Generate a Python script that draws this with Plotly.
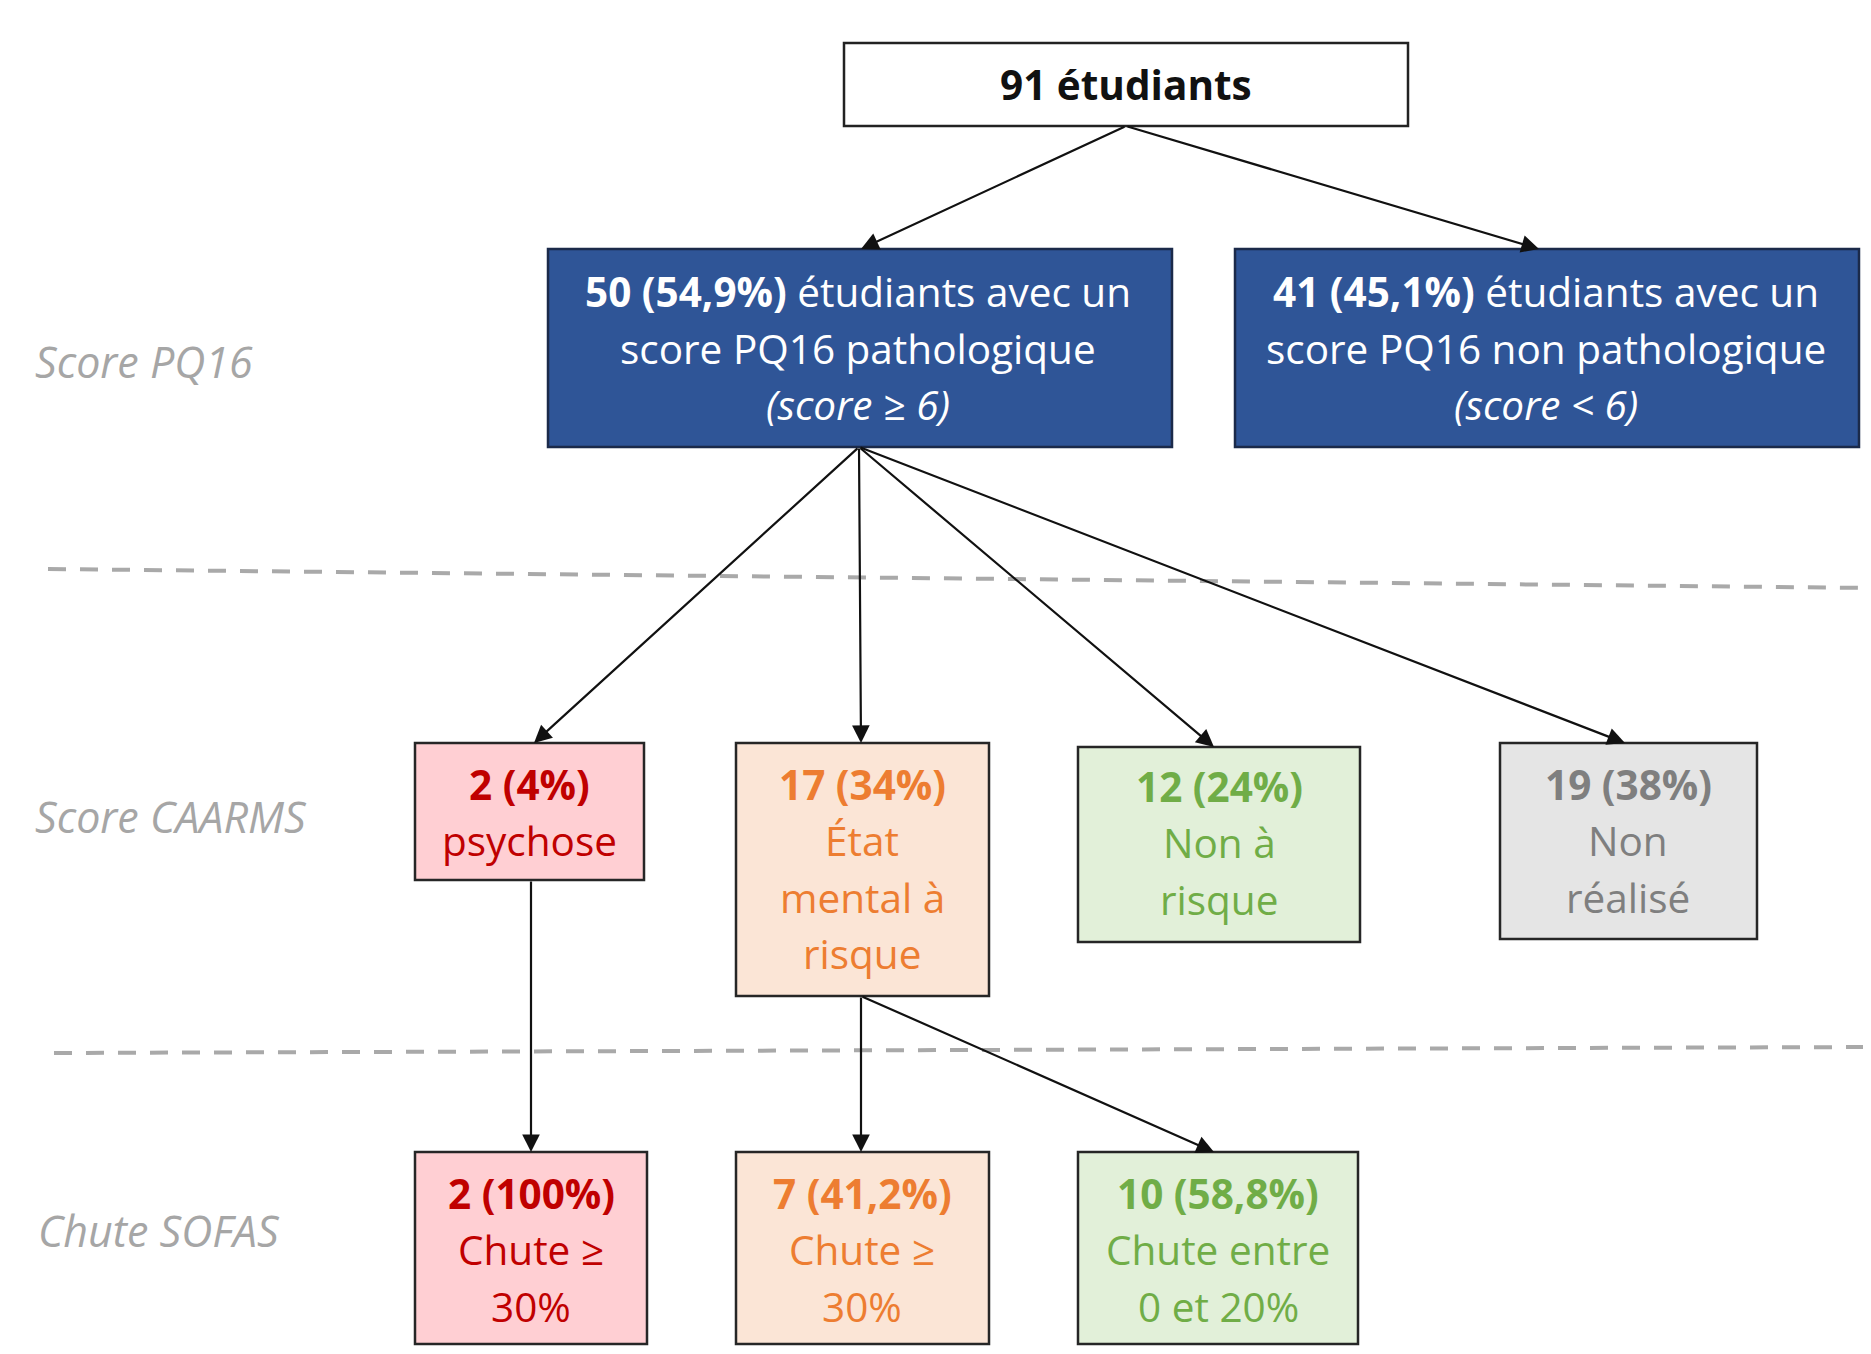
import plotly.graph_objects as go

# ---------------- data ----------------
total_students = 91
pq16_counts = [50, 41]
pq16_pcts = ["54,9%", "45,1%"]
pq16_lines = [["étudiants avec un", "score PQ16 pathologique", "(score ≥ 6)"],
              ["étudiants avec un", "score PQ16 non pathologique", "(score < 6)"]]
caarms_counts = [2, 17, 12, 19]
caarms_pcts = ["4%", "34%", "24%", "38%"]
caarms_lines = [["psychose"], ["État", "mental à", "risque"], ["Non à", "risque"], ["Non", "réalisé"]]
sofas_counts = [2, 7, 10]
sofas_pcts = ["100%", "41,2%", "58,8%"]
sofas_lines = [["Chute ≥", "30%"], ["Chute ≥", "30%"], ["Chute entre", "0 et 20%"]]
row_labels = ["Score PQ16", "Score CAARMS", "Chute SOFAS"]

# ---------------- layout / style ----------------
W, H = 1871, 1354
PAD = 8  # default page margin of the html body
FONT = "Open Sans"
FS = 40.5
FS_ROW = 43
LH = 56.5

pal = {
    "red": ("#FFCFD3", "#C00000"),
    "orange": ("#FBE5D6", "#ED7D31"),
    "green": ("#E2F0D9", "#70AD47"),
    "grey": ("#E5E5E5", "#7F7F7F"),
}

top_box = dict(x0=844, x1=1408, y0=43, y1=126)
pq_boxes = [dict(x0=548, x1=1172, y0=249, y1=447, cx=858),
            dict(x0=1235, x1=1859, y0=249, y1=447, cx=1546)]
pq_text_y = [291, 348, 404]
ca_boxes = [dict(x0=415, x1=644, y0=743, y1=880, cx=529, c="red", ty=784),
            dict(x0=736, x1=989, y0=743, y1=996, cx=862, c="orange", ty=784),
            dict(x0=1078, x1=1360, y0=747, y1=942, cx=1219, c="green", ty=786),
            dict(x0=1500, x1=1757, y0=743, y1=939, cx=1628, c="grey", ty=784)]
so_boxes = [dict(x0=415, x1=647, y0=1152, y1=1344, cx=531, c="red", ty=1193),
            dict(x0=736, x1=989, y0=1152, y1=1344, cx=862, c="orange", ty=1193),
            dict(x0=1078, x1=1358, y0=1152, y1=1344, cx=1218, c="green", ty=1193)]
row_label_pos = [(33, 361), (33, 816), (36, 1230)]

fig = go.Figure()
shapes = []
ann = []

def rect(b, fill, line, lw=2.5):
    shapes.append(dict(type="rect", xref="x", yref="y", x0=b["x0"], x1=b["x1"], y0=b["y0"], y1=b["y1"],
                       fillcolor=fill, line=dict(color=line, width=lw), layer="above"))

def text(x, y, t, color, size=FS, xanchor="center"):
    ann.append(dict(x=x, y=y, xref="x", yref="y", text=t, showarrow=False, xanchor=xanchor, yanchor="middle",
                    font=dict(family=FONT, size=size, color=color)))

def arrow(x0, y0, x1, y1):
    ann.append(dict(x=x1, y=y1, ax=x0, ay=y0, xref="x", yref="y", axref="x", ayref="y", text="",
                    showarrow=True, arrowhead=2, arrowsize=1.6, arrowwidth=2.2, arrowcolor="#111111",
                    standoff=0, startstandoff=0))

# dashed separators
shapes.append(dict(type="line", xref="x", yref="y", x0=48, y0=569, x1=W, y1=588,
                   line=dict(color="#A9A9A9", width=4, dash="18px,14px"), layer="below"))
shapes.append(dict(type="line", xref="x", yref="y", x0=54, y0=1053, x1=W, y1=1047,
                   line=dict(color="#A9A9A9", width=4, dash="18px,14px"), layer="below"))

# top box
rect(top_box, "white", "#222222")
text((top_box["x0"] + top_box["x1"]) / 2, 84, f"<b>{total_students} étudiants</b>", "#111111")

# PQ16 boxes
for b, n, p, lines in zip(pq_boxes, pq16_counts, pq16_pcts, pq16_lines):
    rect(b, "#2F5597", "#1B2A4A")
    text(b["cx"], pq_text_y[0], f"<b>{n} ({p})</b> {lines[0]}", "white")
    text(b["cx"], pq_text_y[1], lines[1], "white")
    text(b["cx"], pq_text_y[2], f"<i>{lines[2]}</i>", "white")

# CAARMS boxes
for b, n, p, lines in zip(ca_boxes, caarms_counts, caarms_pcts, caarms_lines):
    fill, col = pal[b["c"]]
    rect(b, fill, "#262626")
    text(b["cx"], b["ty"], f"<b>{n} ({p})</b>", col)
    for i, l in enumerate(lines):
        text(b["cx"], b["ty"] + LH * (i + 1), l, col)

# SOFAS boxes
for b, n, p, lines in zip(so_boxes, sofas_counts, sofas_pcts, sofas_lines):
    fill, col = pal[b["c"]]
    rect(b, fill, "#262626")
    text(b["cx"], b["ty"], f"<b>{n} ({p})</b>", col)
    for i, l in enumerate(lines):
        text(b["cx"], b["ty"] + LH * (i + 1), l, col)

# row labels
for (x, y), lab in zip(row_label_pos, row_labels):
    text(x, y, f"<i>{lab}</i>", "#A6A6A6", size=FS_ROW, xanchor="left")

# arrows
tcx = (top_box["x0"] + top_box["x1"]) / 2
arrow(tcx, top_box["y1"], 861, 249)
arrow(tcx, top_box["y1"], 1539, 249)
src = (859, 447)
for tx, ty in [(534, 743), (861, 743), (1214, 747), (1625, 743)]:
    arrow(src[0], src[1], tx, ty)
arrow(531, 880, 531, 1152)
arrow(861, 996, 861, 1152)
arrow(861, 996, 1214, 1152)

fig.update_layout(
    width=W - 2 * PAD, height=H - 2 * PAD, margin=dict(l=0, r=0, t=0, b=0, pad=0),
    paper_bgcolor="white", plot_bgcolor="white",
    xaxis=dict(range=[PAD, W - PAD], visible=False, fixedrange=True),
    yaxis=dict(range=[H - PAD, PAD], visible=False, fixedrange=True),
    shapes=shapes, annotations=ann, showlegend=False,
)
fig.write_html("out.html")
